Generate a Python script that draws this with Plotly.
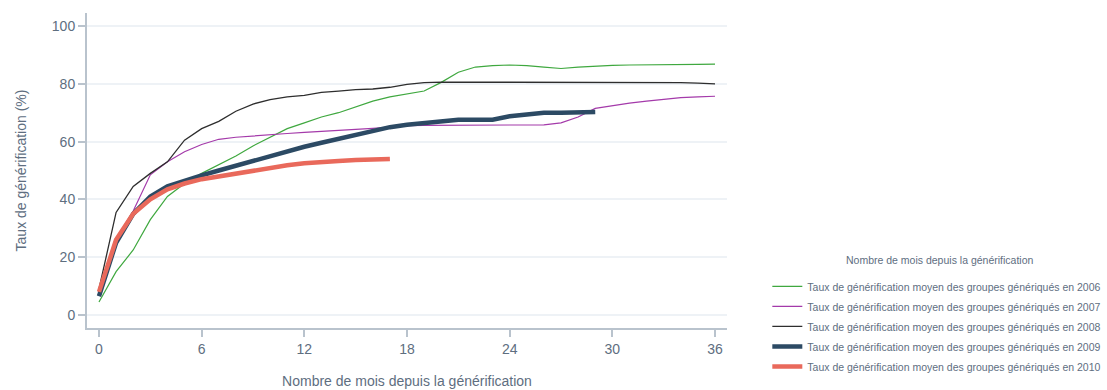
import plotly.graph_objects as go

# Months since generic entry
months = list(range(0, 37))

# Average generic penetration rate (%) by cohort year
taux_2006 = [4.5, 15, 22.5, 33, 41, 45.5, 49, 52, 55, 58.5, 61.5, 64.5, 66.5, 68.5, 70, 72,
             74, 75.5, 76.5, 77.5, 80.5, 84, 85.8, 86.3, 86.5, 86.3, 85.8, 85.3, 85.8, 86.2,
             86.4, 86.5, 86.5, 86.6, 86.7, 86.7, 86.8]
taux_2007 = [7, 25, 36, 48.5, 53, 56.5, 59, 60.8, 61.5, 62, 62.4, 62.8, 63.2, 63.5, 63.8, 64.2,
             64.6, 65, 65.5, 65.6, 65.6, 65.6, 65.6, 65.6, 65.6, 65.6, 65.8, 66.5, 68.5, 71.5,
             72.5, 73.3, 74, 74.6, 75.2, 75.5, 75.7]
taux_2008 = [9, 35.5, 44.5, 49, 53, 60.5, 64.5, 67, 70.5, 73, 74.5, 75.5, 76, 77, 77.5, 78,
             78.2, 78.8, 79.8, 80.4, 80.6, 80.6, 80.6, 80.6, 80.6, 80.6, 80.6, 80.6, 80.6, 80.6,
             80.6, 80.6, 80.6, 80.6, 80.4, 80.2, 80]
taux_2009 = [6.5, 25, 35, 41, 44.5, 46.5, 48.3, 50, 51.7, 53.3, 55, 56.5, 58.2, 59.6, 61, 62.5,
             63.8, 65, 65.8, 66.5, 67.2, 67.6, 67.6, 67.6, 68.8, 69.5, 70, 70, 70, 70.2]
taux_2010 = [8, 26, 35, 40, 43.5, 45.5, 47, 48, 49, 50, 51, 51.8, 52.5, 53, 53.3, 53.6, 53.8, 54]

years = ["2006", "2007", "2008", "2009", "2010"]
series = [taux_2006, taux_2007, taux_2008, taux_2009, taux_2010]
colors = ["#3fa83f", "#a43aaa", "#2e2e2e", "#2c4a64", "#e9695b"]
widths = [1.2, 1.2, 1.3, 4.5, 4.5]

x_ticks = [0, 6, 12, 18, 24, 30, 36]
y_ticks = [0, 20, 40, 60, 80, 100]

axis_col = "#b9c3cd"
text_col = "#5e6e7f"

fig = go.Figure()
for year, vals, col, w in zip(years, series, colors, widths):
    fig.add_trace(go.Scatter(
        x=months[:len(vals)], y=vals, mode="lines",
        name=f"Taux de générification moyen des groupes génériqués en {year}",
        legendgroup=year,
        line=dict(color=col, width=w),
    ))

# Legend heading placed above the legend entries
fig.add_annotation(
    text="Nombre de mois depuis la générification",
    xref="paper", yref="paper", x=1.333, y=0.216,
    xanchor="center", yanchor="middle", showarrow=False,
    font=dict(size=10.5, color=text_col),
)

fig.update_layout(
    width=1107, height=390,
    margin=dict(l=87, r=380, t=13, b=62, autoexpand=False),
    paper_bgcolor="white", plot_bgcolor="white",
    font=dict(family="Liberation Sans, Arial, sans-serif", color=text_col, size=14),
    showlegend=True,
    legend=dict(
        font=dict(size=10.5, color=text_col),
        x=1.063, xanchor="left", y=0.178, yanchor="top",
        bgcolor="rgba(0,0,0,0)", tracegroupgap=1, itemwidth=30,
    ),
    xaxis=dict(
        range=[-0.7, 36.7], tickvals=x_ticks, ticks="outside", ticklen=7,
        tickcolor=axis_col, tickwidth=1.5, showline=True, linecolor=axis_col, linewidth=2,
        showgrid=False, zeroline=False, tickfont=dict(size=14, color=text_col),
        title=dict(text="Nombre de mois depuis la générification", standoff=20,
                   font=dict(size=14, color=text_col)),
    ),
    yaxis=dict(
        range=[-4.5, 104.5], tickvals=y_ticks, ticks="outside", ticklen=7,
        tickcolor=axis_col, tickwidth=1.5, showline=True, linecolor=axis_col, linewidth=2,
        showgrid=True, gridcolor="#eef2f6", gridwidth=1.5, zeroline=False,
        tickfont=dict(size=14, color=text_col),
        title=dict(text="Taux de générification (%)", standoff=22,
                   font=dict(size=14, color=text_col)),
    ),
)

fig.write_html("out.html")
